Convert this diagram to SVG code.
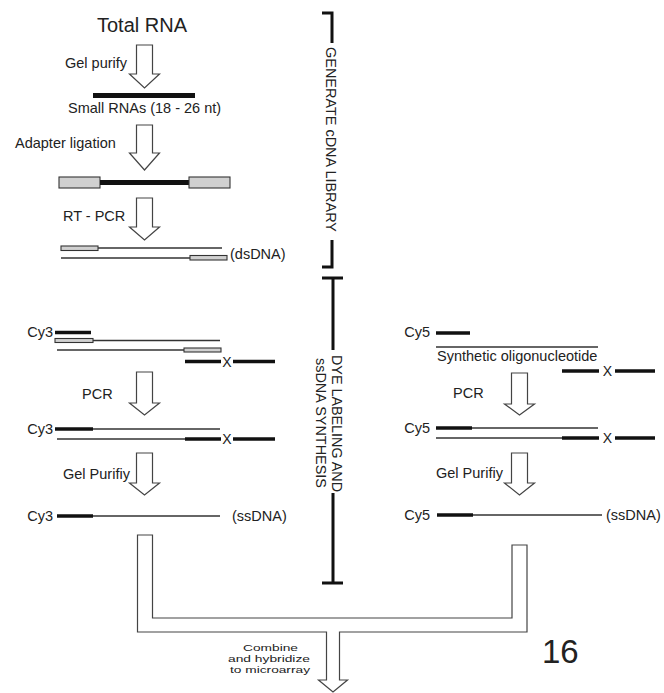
<svg xmlns="http://www.w3.org/2000/svg" width="664" height="693" viewBox="0 0 664 693">
<style>
text{font-family:"Liberation Sans",Arial,sans-serif;fill:#222;font-size:14.5px}
.big{font-size:20px}
.num{font-size:33px}
.vt{font-size:14.5px}
.cmb{font-size:9.8px;text-anchor:middle}
.x{font-size:14px;text-anchor:middle}
.ar{fill:#fff;stroke:#444;stroke-width:1.2}
.thin{stroke:#333;stroke-width:1.4;fill:none}
.bar{stroke:#111;stroke-width:3.6;fill:none}
.gray{fill:#d0d0d0;stroke:#333;stroke-width:1.1}
.brk{stroke:#111;stroke-width:3;fill:none}
</style>
<rect width="664" height="693" fill="#fff"/>

<g id="title"><text class="big" x="97" y="32">Total RNA</text></g>

<g id="connectors">
  <path class="ar" d="M136.5,45 H152.5 V74 H159.5 L144.5,88 L129.5,74 H136.5 Z"/>
  <path class="ar" d="M136.5,125 H152.5 V153 H159.5 L144.5,170 L129.5,153 H136.5 Z"/>
  <path class="ar" d="M136.5,198 H152.5 V227 H159.5 L144.5,240 L129.5,227 H136.5 Z"/>
  <path class="ar" d="M136.5,372 H152.5 V403 H159.5 L144.5,415 L129.5,403 H136.5 Z"/>
  <path class="ar" d="M136.5,453 H152.5 V483 H159.5 L144.5,495 L129.5,483 H136.5 Z"/>
  <path class="ar" d="M511.5,373 H527.5 V404 H534.5 L519.5,415 L504.5,404 H511.5 Z"/>
  <path class="ar" d="M511.5,453 H527.5 V483 H534.5 L519.5,495 L504.5,483 H511.5 Z"/>
  <path class="ar" d="M137.5,535 H152.5 V618 H512 V545 H527 V632 H339.5 V680 H347.5 L333,692 L318.5,680 H326.5 V632 H137.5 Z"/>
</g>

<g id="gel-purify"><text x="65" y="68">Gel purify</text></g>

<g id="small-rnas">
  <line x1="93" y1="95.5" x2="195" y2="95.5" stroke="#111" stroke-width="5"/>
  <text x="68" y="113">Small RNAs (18 - 26 nt)</text>
</g>

<g id="adapter-ligation"><text x="15" y="148">Adapter ligation</text></g>

<g id="adapter-construct">
  <rect class="gray" x="59" y="177" width="41" height="11"/>
  <line x1="100" y1="182.5" x2="189" y2="182.5" stroke="#111" stroke-width="5"/>
  <rect class="gray" x="189" y="177" width="41" height="11"/>
</g>

<g id="rt-pcr"><text x="63" y="221">RT - PCR</text></g>

<g id="dsdna">
  <line class="thin" x1="98" y1="248" x2="222" y2="248"/>
  <rect class="gray" x="61" y="246" width="37" height="4.5"/>
  <line class="thin" x1="61" y1="258" x2="190" y2="258"/>
  <rect class="gray" x="190" y="255.5" width="37" height="4.5"/>
  <text x="230" y="259">(dsDNA)</text>
</g>

<g id="bracket-generate">
  <path class="brk" d="M322,13 H332 V43 M332,240 V267 H322"/>
  <text class="vt" transform="translate(326,47) rotate(90)" textLength="185" lengthAdjust="spacingAndGlyphs">GENERATE cDNA LIBRARY</text>
</g>

<g id="bracket-dye">
  <path class="brk" d="M322,278 H343 M333,278 V350 M333,493 V583 M322,583 H343"/>
  <text class="vt" transform="translate(332,355) rotate(90)" textLength="137" lengthAdjust="spacingAndGlyphs">DYE LABELING AND</text>
  <text class="vt" transform="translate(316,358) rotate(90)" textLength="130" lengthAdjust="spacingAndGlyphs">ssDNA SYNTHESIS</text>
</g>

<g id="cy3-primers">
  <text x="53" y="337" text-anchor="end">Cy3</text>
  <line class="bar" x1="55" y1="332.5" x2="91" y2="332.5"/>
  <line class="thin" x1="93" y1="340.5" x2="220" y2="340.5"/>
  <rect class="gray" x="55" y="338.5" width="38" height="4"/>
  <line class="thin" x1="57" y1="350" x2="184" y2="350"/>
  <rect class="gray" x="184" y="348" width="37" height="4"/>
  <line class="bar" x1="185" y1="361.5" x2="221" y2="361.5"/>
  <text class="x" x="227" y="366.5">X</text>
  <line class="bar" x1="233" y1="361.5" x2="275" y2="361.5"/>
</g>

<g id="pcr-left"><text x="82" y="399">PCR</text></g>

<g id="cy3-pcr">
  <text x="53" y="434" text-anchor="end">Cy3</text>
  <line class="bar" x1="55" y1="429" x2="93" y2="429"/>
  <line class="thin" x1="93" y1="429" x2="220" y2="429"/>
  <line class="thin" x1="57" y1="439" x2="185" y2="439"/>
  <line class="bar" x1="185" y1="439" x2="221" y2="439"/>
  <text class="x" x="227" y="444">X</text>
  <line class="bar" x1="233" y1="439" x2="275" y2="439"/>
</g>

<g id="gel-purifiy-left"><text x="63" y="479">Gel Purifiy</text></g>

<g id="cy3-ssdna">
  <text x="53" y="521" text-anchor="end">Cy3</text>
  <line class="bar" x1="57" y1="516" x2="93" y2="516"/>
  <line class="thin" x1="93" y1="516" x2="220" y2="516"/>
  <text x="232" y="521">(ssDNA)</text>
</g>

<g id="cy5-primers">
  <text x="430" y="337" text-anchor="end">Cy5</text>
  <line class="bar" x1="436" y1="333" x2="470" y2="333"/>
  <line class="thin" x1="436" y1="347" x2="598" y2="347"/>
  <text x="437" y="361">Synthetic oligonucleotide</text>
  <line class="bar" x1="562" y1="371" x2="599" y2="371"/>
  <text class="x" x="607.5" y="376">X</text>
  <line class="bar" x1="615" y1="371" x2="655" y2="371"/>
</g>

<g id="pcr-right"><text x="453" y="398">PCR</text></g>

<g id="cy5-pcr">
  <text x="430" y="433" text-anchor="end">Cy5</text>
  <line class="bar" x1="436" y1="428" x2="472" y2="428"/>
  <line class="thin" x1="472" y1="428" x2="598" y2="428"/>
  <line class="thin" x1="436" y1="438" x2="562" y2="438"/>
  <line class="bar" x1="562" y1="438" x2="599" y2="438"/>
  <text class="x" x="607.5" y="443">X</text>
  <line class="bar" x1="615" y1="438" x2="655" y2="438"/>
</g>

<g id="gel-purifiy-right"><text x="436" y="478">Gel Purifiy</text></g>

<g id="cy5-ssdna">
  <text x="430" y="520" text-anchor="end">Cy5</text>
  <line class="bar" x1="437" y1="515" x2="473" y2="515"/>
  <line class="thin" x1="473" y1="515" x2="602" y2="515"/>
  <text x="606" y="520">(ssDNA)</text>
</g>

<g id="combine-label">
  <text class="cmb" x="270.5" y="651" textLength="55" lengthAdjust="spacingAndGlyphs">Combine</text>
  <text class="cmb" x="269" y="662" textLength="82" lengthAdjust="spacingAndGlyphs">and hybridize</text>
  <text class="cmb" x="270" y="673" textLength="80" lengthAdjust="spacingAndGlyphs">to microarray</text>
</g>

<g id="page-number"><text class="num" x="542" y="663">16</text></g>
</svg>
